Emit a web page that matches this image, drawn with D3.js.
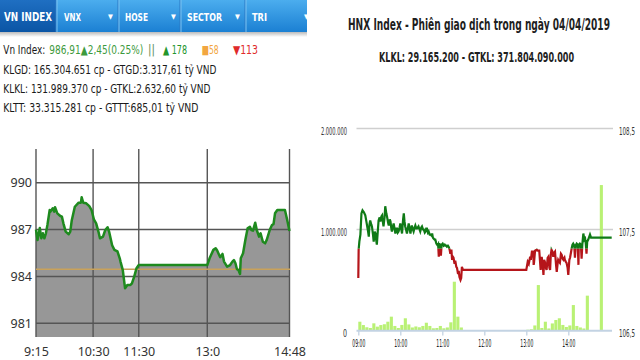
<!DOCTYPE html>
<html><head><meta charset="utf-8">
<script src="https://cdn.jsdelivr.net/npm/d3@7"></script>
<style>html,body{margin:0;padding:0;background:#fff;}svg{display:block;}</style>
</head><body>
<svg id="c" width="640" height="360"></svg>
<script>
// ---------------- DATA ----------------
const tabLabels = ["VN INDEX", "VNX", "HOSE", "SECTOR", "TRI"];
const infoLines = [
  "KLGD: 165.304.651 cp - GTGD:3.317,61 tỷ VND",
  "KLKL: 131.989.370 cp - GTKL:2.632,60 tỷ VND",
  "KLTT: 33.315.281 cp - GTTT:685,01 tỷ VND"
];
const vnIndexLabel = "Vn Index:";
const vnIndexValue = "986,91▲2,45(0.25%)";
const vnBreadth = ["▲ 178", "■58", "▼113"];

const vnTime = ["09:15","09:17","09:20","09:22","09:24","09:26","09:28","09:30","09:33","09:34","09:37","09:39","09:40","09:43","09:47","09:49","09:51","09:54","09:58","10:00","10:02","10:06","10:11","10:14","10:15","10:17","10:21","10:25","10:28","10:31","10:34","10:37","10:39","10:43","10:46","10:49","10:51","10:55","10:58","11:02","11:05","11:06","11:09","11:12","11:15","11:19","11:21","11:24","11:27","11:30","13:00","13:03","13:08","13:11","13:13","13:15","13:17","13:20","13:22","13:26","13:30","13:33","13:35","13:37","13:39","13:41","13:43","13:44","13:47","13:50","13:53","13:56","13:58","14:00","14:03","14:05","14:08","14:10","14:13","14:16","14:18","14:22","14:25","14:27","14:29","14:32","14:42","14:45","14:48"];
const vnValue = [987.00,986.33,987.10,986.44,986.76,986.44,986.76,987.30,988.25,988.15,988.36,988.15,988.43,988.04,987.87,987.83,987.40,986.87,986.70,986.87,987.60,988.46,988.72,988.72,989.07,988.72,988.68,988.50,988.25,987.66,987.40,986.87,986.44,986.55,986.97,987.15,986.87,986.00,985.70,985.60,985.16,984.95,984.40,983.24,983.45,983.45,983.56,983.99,984.52,984.73,984.73,985.16,985.70,985.80,985.66,985.44,985.23,985.44,984.95,984.63,984.73,984.95,985.05,984.84,984.46,984.41,984.16,985.16,985.48,986.33,987.08,987.18,986.97,986.93,987.44,986.97,986.55,986.76,986.22,986.12,986.33,986.97,987.29,987.35,988.04,988.25,988.25,987.61,986.91];
const vnReference = 984.46;
const vnTickTimes = ["09:15","10:30","11:30","13:00","14:48"];
const vnTickLabels = ["9:15","10:30","11:30","13:0","14:48"];
const vnYTicks = [981, 984, 987, 990];

const hnxTitle = "HNX Index - Phiên giao dịch trong ngày 04/04/2019";
const hnxSubtitle = "KLKL: 29.165.200 - GTKL: 371.804.090.000";
const hnxTime = ["09:00:00","09:00:30","09:01:30","09:03:00","09:04:30","09:06:00","09:08:00","09:10:00","09:11:30","09:13:00","09:14:00","09:15:00","09:16:00","09:17:00","09:18:30","09:19:30","09:21:00","09:22:00","09:23:30","09:24:30","09:25:30","09:26:30","09:28:00","09:29:00","09:30:30","09:31:30","09:33:00","09:34:00","09:35:00","09:36:00","09:37:30","09:38:30","09:40:00","09:41:00","09:42:30","09:43:30","09:45:00","09:46:00","09:47:00","09:48:00","09:49:30","09:50:30","09:52:00","09:53:00","09:54:30","09:55:30","09:56:30","09:57:30","09:59:00","10:00:00","10:01:30","10:02:30","10:04:00","10:05:00","10:06:00","10:07:00","10:08:30","10:09:30","10:11:00","10:12:00","10:13:30","10:14:30","10:15:30","10:16:30","10:18:00","10:19:00","10:20:30","10:21:30","10:23:00","10:24:00","10:26:00","10:27:30","10:28:30","10:30:00","10:31:00","10:32:30","10:33:30","10:35:00","10:36:00","10:37:00","10:38:00","10:39:30","10:40:30","10:42:00","10:43:00","10:44:30","10:45:30","10:46:30","10:47:30","10:49:00","10:50:00","10:51:30","10:52:30","10:54:00","10:55:00","10:55:30","10:57:00","10:58:00","10:59:00","11:00:30","11:02:00","11:03:30","11:04:30","11:05:30","11:06:30","11:08:00","11:09:00","11:10:30","11:11:30","11:13:00","11:14:00","11:15:00","11:16:00","11:17:30","11:18:30","11:20:00","11:21:00","11:22:30","11:23:30","11:24:30","11:26:00","11:27:00","11:28:00","11:29:30","13:00:00","13:02:00","13:03:30","13:05:30","13:06:30","13:08:00","13:10:00","13:10:30","13:11:00","13:12:30","13:15:00","13:16:30","13:18:30","13:20:30","13:22:00","13:23:30","13:24:30","13:25:30","13:26:30","13:28:00","13:29:00","13:30:30","13:31:30","13:33:00","13:34:00","13:35:00","13:36:00","13:37:30","13:38:30","13:40:00","13:41:00","13:42:30","13:43:30","13:45:00","13:45:30","13:47:00","13:48:00","13:49:30","13:50:30","13:52:00","13:53:00","13:54:30","13:55:00","13:56:30","13:57:30","13:59:00","14:00:00","14:01:30","14:02:30","14:04:00","14:05:00","14:06:00","14:07:00","14:08:30","14:09:30","14:10:30","14:12:00","14:13:30","14:14:30","14:15:00","14:16:30","14:18:00","14:19:00","14:20:00","14:21:30","14:23:00","14:24:00","14:25:00","14:26:00","14:27:00","14:28:30","14:30:00","14:31:00","14:32:30","15:02:00"];
const hnxPrice = [107.02,107.30,107.38,107.45,107.66,107.69,107.67,107.64,107.58,107.52,107.48,107.43,107.55,107.59,107.55,107.53,107.45,107.38,107.48,107.46,107.40,107.35,107.50,107.59,107.62,107.58,107.63,107.64,107.58,107.53,107.62,107.73,107.66,107.63,107.57,107.54,107.60,107.58,107.52,107.48,107.53,107.56,107.50,107.46,107.51,107.51,107.47,107.48,107.52,107.56,107.50,107.46,107.60,107.66,107.58,107.53,107.49,107.46,107.52,107.56,107.50,107.46,107.51,107.54,107.50,107.48,107.52,107.54,107.51,107.51,107.53,107.50,107.48,107.52,107.53,107.50,107.50,107.47,107.48,107.51,107.51,107.47,107.48,107.45,107.45,107.44,107.46,107.42,107.41,107.40,107.40,107.36,107.35,107.36,107.23,107.36,107.35,107.24,107.35,107.36,107.34,107.35,107.34,107.34,107.33,107.34,107.33,107.30,107.26,107.30,107.20,107.23,107.22,107.16,107.19,107.13,107.12,107.06,107.09,107.03,107.00,107.02,107.13,107.10,107.10,107.18,107.16,107.23,107.20,107.28,107.28,107.15,107.17,107.29,107.30,107.29,107.29,107.10,107.23,107.15,107.05,107.20,107.18,107.12,107.10,107.22,107.23,107.12,107.10,107.25,107.30,107.28,107.23,107.27,107.28,107.15,107.08,107.18,107.20,107.18,107.17,107.26,107.25,107.21,107.20,107.22,107.20,107.18,107.17,107.12,107.05,107.20,107.22,107.28,107.32,107.35,107.36,107.34,107.22,107.34,107.36,107.35,107.15,107.35,107.36,107.35,107.21,107.35,107.46,107.40,107.41,107.36,107.26,107.38,107.40,107.43,107.45,107.42,107.42];
const hnxReference = 107.31;
const hnxVolTime = ["09:00","09:05","09:10","09:15","09:20","09:25","09:30","09:35","09:40","09:45","09:50","09:55","10:00","10:05","10:10","10:15","10:20","10:25","10:30","10:35","10:40","10:45","10:50","10:55","11:00","11:05","11:10","11:15","11:20","11:25","13:00","13:05","13:10","13:15","13:20","13:25","13:30","13:35","13:40","13:45","13:50","13:55","14:00","14:05","14:10","14:15","14:20","14:25","14:45"];
const hnxVolume = [87000,54000,32000,25000,71000,38000,54000,62000,87000,137000,45000,25000,55000,121000,60000,30000,40000,32000,45000,77000,45000,22000,25000,45000,22000,30000,81000,483000,137000,30000,8000,12000,50000,450000,25000,87000,20000,70000,104000,121000,55000,35000,50000,252000,45000,30000,20000,345000,1440000];
const hnxTimeTicks = ["09:00","10:00","11:00","12:00","13:00","14:00"];
const hnxVolTicks = [0, 1000000, 2000000];
const hnxPriceTicks = [106.5, 107.5, 108.5];

// ---------------- DRAW ----------------
const svg = d3.select("#c");
const defs = svg.append("defs");
const pT = d3.timeParse("%H:%M");
const pS = d3.timeParse("%H:%M:%S");
const narrow = "'Liberation Sans Narrow','DejaVu Sans Condensed','Roboto',sans-serif";
const tahoma = "'DejaVu Sans Condensed','DejaVu Sans',sans-serif";
const segoe = "'Noto Sans','Open Sans',sans-serif";

// header bar
const g1 = defs.append("linearGradient").attr("id","bar").attr("x1",0).attr("x2",0).attr("y1",0).attr("y2",1);
g1.append("stop").attr("offset","0").attr("stop-color","#4badee");
g1.append("stop").attr("offset","1").attr("stop-color","#1b80d3");
const g2 = defs.append("linearGradient").attr("id","tab").attr("x1",0).attr("x2",0).attr("y1",0).attr("y2",1);
g2.append("stop").attr("offset","0").attr("stop-color","#1f6fc2");
g2.append("stop").attr("offset","1").attr("stop-color","#0b55a5");
const g3 = defs.append("linearGradient").attr("id","shadow").attr("x1",0).attr("x2",0).attr("y1",0).attr("y2",1);
g3.append("stop").attr("offset","0").attr("stop-color","#bbbbbb");
g3.append("stop").attr("offset","1").attr("stop-color","#ffffff");

svg.append("rect").attr("x",0).attr("y",32).attr("width",307).attr("height",5).attr("fill","url(#shadow)");
svg.append("rect").attr("x",0).attr("y",0).attr("width",307).attr("height",32).attr("fill","url(#bar)");
svg.append("rect").attr("x",0).attr("y",0).attr("width",56).attr("height",32).attr("fill","url(#tab)");
[56,118,180,245].forEach(x => {
  svg.append("line").attr("x1",x).attr("x2",x).attr("y1",0).attr("y2",32).attr("stroke","#2a78c4").attr("stroke-width",1);
  svg.append("line").attr("x1",x+1).attr("x2",x+1).attr("y1",0).attr("y2",32).attr("stroke","#7cc3f2").attr("stroke-width",1);
});
const tabPos = [{x:4,w:48,fs:12},{x:64,w:17,fs:10.5},{x:125,w:23,fs:10.5},{x:187,w:35,fs:10.5},{x:252,w:15,fs:10.5}];
const arrowX = [null,108,171,235,304];
tabLabels.forEach((t,i) => {
  const tx = svg.append("text").attr("y",21).attr("fill","#fff").attr("font-family",narrow).attr("font-weight","bold");
  tx.append("tspan").attr("x",tabPos[i].x).attr("font-size",tabPos[i].fs).attr("textLength",tabPos[i].w)
    .attr("lengthAdjust","spacingAndGlyphs").text(t);
  if (arrowX[i]) tx.append("tspan").attr("x",arrowX[i]).attr("y",19).attr("font-size",7).attr("font-family",tahoma).text("▼");
});

// info line 1 as one text element with coloured pieces
const l1 = svg.append("text").attr("y",54).attr("font-family",tahoma).attr("font-size",12);
const pieces = [
  {s: vnIndexLabel, x: 3.3, w: 42, c: "#1a1a1a"},
  {s: vnIndexValue, x: 49.3, w: 94, c: "#3d9a3d"},
  {s: "||", x: 148, w: 7, c: "#5b8f5b"},
  {s: vnBreadth[0], x: 163, w: 24, c: "#23952b"},
  {s: vnBreadth[1], x: 201.7, w: 17, c: "#f2a640"},
  {s: vnBreadth[2], x: 233, w: 25, c: "#e02a2a"}
];
pieces.forEach(p => l1.append("tspan").attr("x",p.x).attr("fill",p.c).attr("textLength",p.w)
  .attr("lengthAdjust","spacingAndGlyphs").text(p.s));
const infoW = [213, 207, 195];
infoLines.forEach((s,i) => svg.append("text").attr("x",3.3).attr("y",74 + i*19).attr("font-family",tahoma)
  .attr("font-size",12).attr("fill","#1a1a1a").attr("textLength",infoW[i]).attr("lengthAdjust","spacingAndGlyphs").text(s));

// -------- left chart --------
const xL = d3.scaleTime().domain([pT("09:15"), pT("14:48")]).range([36, 289.5]);
const yL = d3.scaleLinear().domain([981, 990]).range([323.3, 182.7]);
const bottomL = 337, topL = 149;
const vn = vnTime.map((t,i) => ({t: pT(t), v: vnValue[i]}));

svg.append("path").datum(vn)
  .attr("d", d3.area().x(d => xL(d.t)).y0(bottomL).y1(d => yL(d.v)))
  .attr("fill", "#979797");

const gl = svg.append("g");
gl.selectAll("line.h").data(vnYTicks).join("line")
  .attr("x1",36).attr("x2",290).attr("y1",d=>yL(d)).attr("y2",d=>yL(d))
  .attr("stroke","#555").attr("stroke-width",1.4);
gl.selectAll("line.v").data(vnTickTimes).join("line").attr("class","v")
  .attr("x1",d=>xL(pT(d))).attr("x2",d=>xL(pT(d))).attr("y1",topL).attr("y2",bottomL)
  .attr("stroke","#555").attr("stroke-width",1.4);

svg.append("line").attr("x1",36).attr("x2",290).attr("y1",yL(vnReference)).attr("y2",yL(vnReference))
  .attr("stroke","#c9a25a").attr("stroke-width",1.6);

svg.append("path").datum(vn)
  .attr("d", d3.line().x(d => xL(d.t)).y(d => yL(d.v)))
  .attr("fill","none").attr("stroke","#1e8a1e").attr("stroke-width",2.5).attr("stroke-linejoin","round");

const axL = svg.append("g").attr("transform","translate(36,0)")
  .call(d3.axisLeft(yL).tickValues(vnYTicks).tickSize(0).tickPadding(4).tickFormat(d3.format("d")));
axL.select(".domain").remove();
axL.selectAll("text").attr("font-family",segoe).attr("font-size",12.5).attr("fill","#333").attr("dy","0.3em");

const axB = svg.append("g").attr("transform",`translate(0,${bottomL})`)
  .call(d3.axisBottom(xL).tickValues(vnTickTimes.map(pT)).tickSize(0).tickPadding(0)
    .tickFormat((d,i) => vnTickLabels[i]));
axB.select(".domain").remove();
axB.selectAll("text").attr("font-family",segoe).attr("font-size",12.5).attr("fill","#333").attr("y",10).attr("dy","0.71em");

// -------- right chart --------
svg.append("text").attr("x",348).attr("y",30).attr("font-family",narrow).attr("font-weight","bold")
  .attr("font-size",16).attr("fill","#1e1e1e").attr("textLength",262).attr("lengthAdjust","spacingAndGlyphs").text(hnxTitle);
svg.append("text").attr("x",379).attr("y",61.5).attr("font-family",narrow).attr("font-weight","bold")
  .attr("font-size",14).attr("fill","#1e1e1e").attr("textLength",195).attr("lengthAdjust","spacingAndGlyphs").text(hnxSubtitle);

const xR = d3.scaleTime().domain([pT("09:00"), pT("15:00")]).range([358.3, 610.3]);
const yV = d3.scaleLinear().domain([0, 2000000]).range([330.5, 128.5]);
const yP = d3.scaleLinear().domain([106.5, 108.5]).range([330.5, 128.5]);
const loc = d3.formatLocale({decimal:",", thousands:".", grouping:[3], currency:["",""]});

svg.append("g").selectAll("line").data(hnxVolTicks.slice(1)).join("line")
  .attr("x1",356.5).attr("x2",613).attr("y1",d=>yV(d)).attr("y2",d=>yV(d))
  .attr("stroke","#cfcfcf").attr("stroke-width",1.5);

svg.append("g").selectAll("rect").data(hnxVolTime).join("rect")
  .attr("x", d => xR(pT(d)))
  .attr("width", d => xR(d3.timeMinute.offset(pT(d),5)) - xR(pT(d)) - 0.4)
  .attr("y", (d,i) => yV(hnxVolume[i]))
  .attr("height", (d,i) => yV(0) - yV(hnxVolume[i]))
  .attr("fill","#b9f174");

const axR = svg.append("g").attr("transform","translate(0,330.5)")
  .call(d3.axisBottom(xR).tickValues(hnxTimeTicks.map(pT)).tickSize(5).tickPadding(4).tickFormat(d3.timeFormat("%H:%M")));
axR.select(".domain").remove();
axR.selectAll("line").attr("stroke","#c3d3e3").attr("stroke-width",1.3);
axR.selectAll("text").attr("font-family",narrow).attr("font-size",11).attr("fill","#222")
  .attr("textLength",13).attr("lengthAdjust","spacingAndGlyphs");
svg.append("line").attr("x1",356.5).attr("x2",612).attr("y1",330.7).attr("y2",330.7).attr("stroke","#c3d3e3").attr("stroke-width",2);

const axVL = svg.append("g").attr("transform","translate(347,0)")
  .call(d3.axisLeft(yV).tickValues(hnxVolTicks).tickSize(0).tickPadding(0).tickFormat(loc.format(",d")));
axVL.select(".domain").remove();
axVL.selectAll("text").attr("font-family",narrow).attr("font-size",10.5).attr("fill","#333").attr("dy","0.6em")
  .each(function(d){ d3.select(this).attr("textLength", d === 0 ? 4 : 26).attr("lengthAdjust","spacingAndGlyphs"); });

const axPR = svg.append("g").attr("transform","translate(619,0)")
  .call(d3.axisRight(yP).tickValues(hnxPriceTicks).tickSize(0).tickPadding(0).tickFormat(loc.format(".1f")));
axPR.select(".domain").remove();
axPR.selectAll("text").attr("font-family",narrow).attr("font-size",10).attr("fill","#333").attr("dy","0.55em")
  .attr("textLength",16).attr("lengthAdjust","spacingAndGlyphs");

// price line coloured by reference
const hnx = hnxTime.map((t,i) => ({t: pS(t), p: hnxPrice[i]}));
const refY = yP(hnxReference);
defs.append("clipPath").attr("id","above").append("rect").attr("x",340).attr("y",0).attr("width",290).attr("height",refY);
defs.append("clipPath").attr("id","below").append("rect").attr("x",340).attr("y",refY).attr("width",290).attr("height",360-refY);
const priceLine = d3.line().x(d => xR(d.t)).y(d => yP(d.p));
svg.append("path").datum(hnx).attr("d",priceLine).attr("fill","none").attr("stroke","#0f7a16")
  .attr("stroke-width",2.2).attr("clip-path","url(#above)");
svg.append("path").datum(hnx).attr("d",priceLine).attr("fill","none").attr("stroke","#b5151a")
  .attr("stroke-width",2.2).attr("clip-path","url(#below)");
</script>
</body></html>
